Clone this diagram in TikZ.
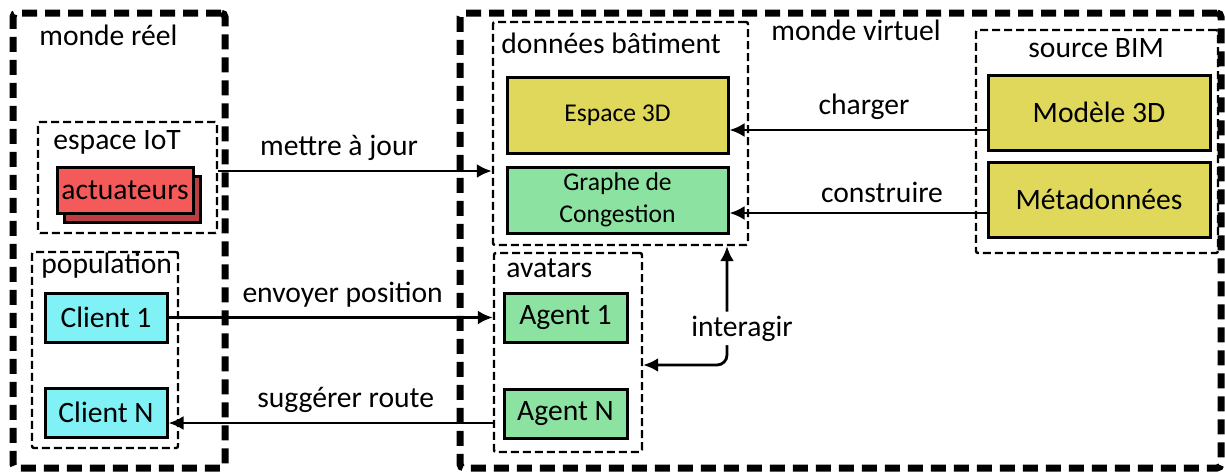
\documentclass[tikz,border=0pt]{standalone}
\usepackage{fontspec}
\setmainfont{Carlito}
\usetikzlibrary{arrows.meta}
\definecolor{jaune}{RGB}{224,216,90}
\definecolor{vert}{RGB}{140,226,160}
\definecolor{cyan1}{RGB}{128,242,245}
\definecolor{rouge}{RGB}{245,90,90}
\definecolor{rougefonce}{RGB}{188,62,66}
\begin{document}
\begin{tikzpicture}[x=0.5pt, y=-0.5pt, -{Latex[length=7.5pt,width=7pt]}, line width=1.4pt,
    font=\fontsize{14.8}{16}\selectfont,
    monde/.style={draw, dash pattern=on 7.5pt off 4pt, line width=3.5pt, rounded corners=2pt, inner sep=0pt},
    groupe/.style={draw, dash pattern=on 4pt off 2pt, line width=1.2pt, rounded corners=1pt, inner sep=0pt},
    boite/.style={draw, line width=1.5pt, inner sep=0pt, align=center},
    titre/.style={anchor=base west, inner sep=0pt}]
    \useasboundingbox (0,0) rectangle (1225,472);
    % conteneurs
    \node [monde, minimum width=106pt, minimum height=227.5pt] (reel) at (119,240.5) {};
    \node [monde, minimum width=380.5pt, minimum height=227.5pt] (virtuel) at (840.5,240.5) {};
    \node [groupe, minimum width=89.5pt, minimum height=55.5pt] (iot) at (127.5,177.5) {};
    \node [groupe, minimum width=73pt, minimum height=98pt] (pop) at (105,350) {};
    \node [groupe, minimum width=127.5pt, minimum height=111.5pt] (bat) at (620.5,133.5) {};
    \node [groupe, minimum width=74pt, minimum height=99.5pt] (av) at (568,352.5) {};
    \node [groupe, minimum width=121pt, minimum height=111.5pt] (bim) at (1097,141.5) {};
    \node [titre] at (38,45) {monde réel};
    \node [titre] at (770,40) {monde virtuel};
    \node [titre] at (52,149) {espace IoT};
    \node [titre] at (40,273) {population};
    \node [titre] at (500,53) {données bâtiment};
    \node [titre] at (505,277) {avatars};
    \node [titre] at (1027,57) {source BIM};
    % boites
    \node [boite, fill=rougefonce, minimum width=68pt, minimum height=23pt] (actfond) at (132,199) {};
    \node [boite, fill=rouge, minimum width=68pt, minimum height=23pt] (act) at (125,190) {actuateurs};
    \node [boite, fill=cyan1, minimum width=61pt, minimum height=24.5pt] (c1) at (106,317.5) {Client 1};
    \node [boite, fill=cyan1, minimum width=61pt, minimum height=24.5pt] (cn) at (106,412.5) {Client N};
    \node [boite, fill=vert, minimum width=61.5pt, minimum height=24.5pt] (a1) at (565.5,317.5) {Agent 1};
    \node [boite, fill=vert, minimum width=61.5pt, minimum height=24.5pt] (an) at (565.5,413.5) {Agent N};
    \node [boite, fill=jaune, minimum width=110.5pt, minimum height=38pt, font=\fontsize{12.8}{16}\selectfont] (esp) at (617.5,115) {Espace 3D};
    \node [boite, fill=vert, minimum width=110.5pt, minimum height=33pt, font=\fontsize{12.8}{16}\selectfont] (gra) at (617.5,200) {Graphe de\\Congestion};
    \node [boite, fill=jaune, minimum width=111pt, minimum height=37.5pt] (mod) at (1099,112.5) {Modèle 3D};
    \node [boite, fill=jaune, minimum width=111pt, minimum height=37.5pt] (meta) at (1099,199.5) {Métadonnées};
    % liens
    \draw ([yshift=3.25pt]iot.east) -- ([yshift=3.25pt]iot.east -| bat.west) node [midway, above=1pt, xshift=-8pt] {mettre à jour};
    \draw ([yshift=-8.75pt]mod.west) -- ([yshift=-8.75pt]mod.west -| esp.east) node [midway, above=1pt, xshift=3pt] {charger};
    \draw ([yshift=-6.75pt]meta.west) -- ([yshift=-6.75pt]meta.west -| gra.east) node [midway, above=1pt, xshift=12pt] {construire};
    \draw (c1.east) -- (c1.east -| av.west) node [midway, above=1pt, xshift=6pt] {envoyer position};
    \draw ([yshift=-5.25pt]cn.east -| av.west) -- ([yshift=-5.25pt]cn.east) node [midway, above=1pt, xshift=7.5pt] {suggérer route};
    \draw [{Latex[length=7.5pt,width=7pt]}-{Latex[length=7.5pt,width=7pt]}, rounded corners=5pt] ([yshift=-6.25pt]av.east) -| ([xshift=53.25pt]bat.south) node [pos=0.654, xshift=7.5pt, fill=white, inner sep=2pt] {interagir};
\end{tikzpicture}
\end{document}
